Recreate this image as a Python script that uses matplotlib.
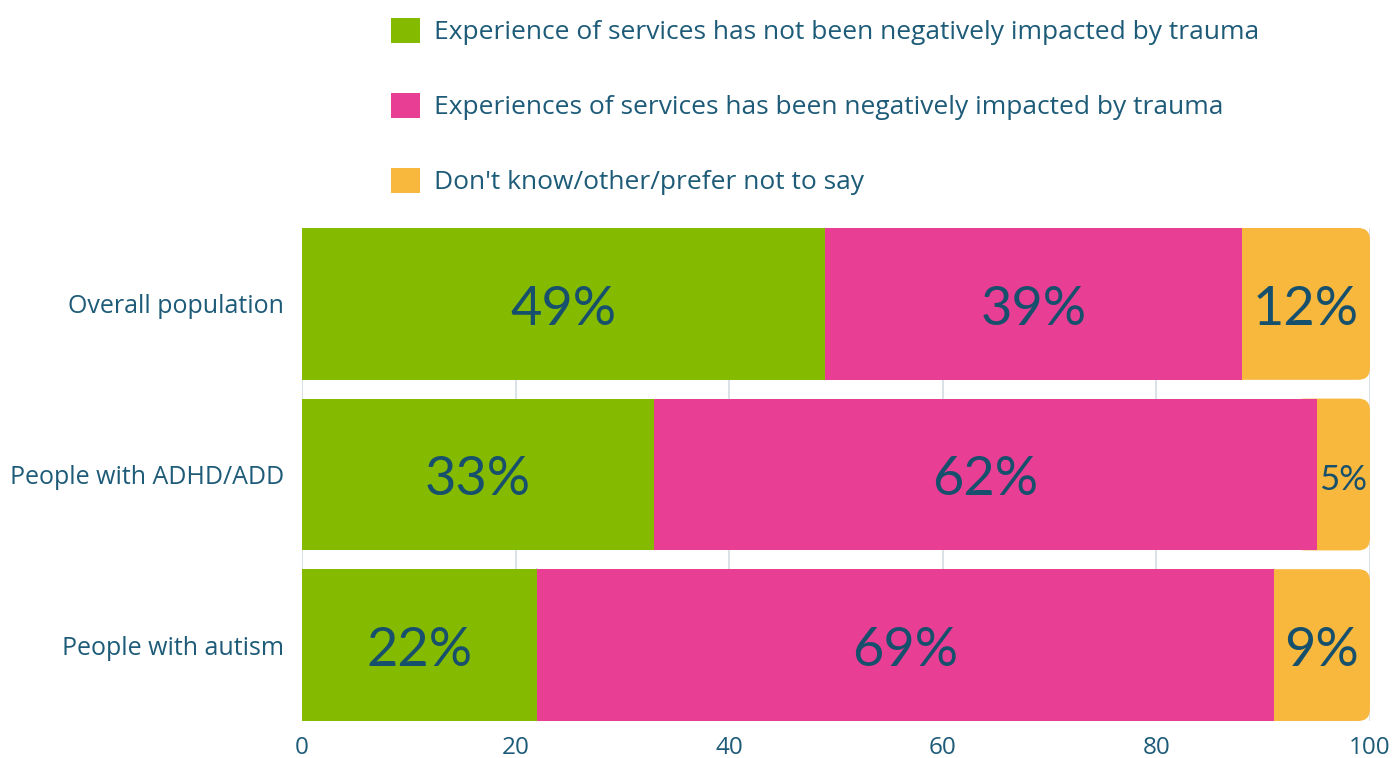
import matplotlib
matplotlib.use("Agg")
import matplotlib.pyplot as plt
from matplotlib.patches import FancyBboxPatch, Patch

# data
groups = ["Overall population", "People with ADHD/ADD", "People with autism"]
series = [
    "Experience of services has not been negatively impacted by trauma",
    "Experiences of services has been negatively impacted by trauma",
    "Don't know/other/prefer not to say",
]
not_impacted = [49, 33, 22]
impacted = [39, 62, 69]
dont_know = [12, 5, 9]
xticks = [0, 20, 40, 60, 80, 100]

colors = ["#84BA00", "#E83E93", "#F8B73D"]
text_col = "#1D5B78"
label_col = "#17506C"

plt.rcParams["font.family"] = ["Open Sans", "DejaVu Sans"]

fig = plt.figure(figsize=(13.92, 7.58), dpi=100)
ax = fig.add_axes([302 / 1392, 37 / 758, 1068 / 1392, 493 / 758])

ypos = list(range(len(groups)))
h = 0.89
values = [not_impacted, impacted, dont_know]
left = [0] * len(groups)
containers = []
for vals, col, name in zip(values, colors, series):
    bars = ax.barh(ypos, vals, left=left, height=h, color=col, label=name, zorder=3)
    containers.append(bars)
    left = [l + v for l, v in zip(left, vals)]

ax.set_xlim(0, 100)
ax.set_ylim(len(groups) - 1 + h / 2, -h / 2)

# round the right end of the last segment
px_x = 1068 / 100.0
px_y = 493 / (len(groups) - 1 + h)
r = 12 / px_x
last = containers[-1]
for rect in last.patches:
    x0, y0, w, hh = rect.get_x(), rect.get_y(), rect.get_width(), rect.get_height()
    rect.set_visible(False)
    fb = FancyBboxPatch((x0 - 2 * r, y0), w + 2 * r, hh,
                        boxstyle=f"round,pad=0,rounding_size={r}",
                        mutation_aspect=px_x / px_y,
                        facecolor=rect.get_facecolor(), edgecolor="none", zorder=2)
    ax.add_patch(fb)

# labels inside segments
for vals, bars in zip(values, containers):
    for v, rect in zip(vals, bars.patches):
        cx = rect.get_x() + rect.get_width() / 2
        cy = rect.get_y() + rect.get_height() / 2 + 0.03
        fs = 25 if v < 6 else 39
        ax.text(cx, cy, f"{v}%", ha="center", va="center", fontsize=fs,
                color=label_col, zorder=5, family=["Lato", "DejaVu Sans"])

ax.set_yticks(ypos)
ax.set_yticklabels(groups)
ax.set_xticks(xticks)
ax.set_xticklabels([str(t) for t in xticks])
ax.tick_params(axis="both", length=0, colors=text_col, labelsize=17.5)
ax.tick_params(axis="y", labelsize=18, pad=13)
ax.tick_params(axis="x", pad=11)
for s in ax.spines.values():
    s.set_visible(False)
ax.grid(axis="x", color="#D3DDE4", linewidth=1.2, zorder=0)
ax.set_axisbelow(True)

handles = [Patch(facecolor=c, edgecolor="none") for c in colors]
leg = fig.legend(handles, series, loc="upper left",
                 bbox_to_anchor=(380 / 1392, 1 - 7 / 758),
                 frameon=False, fontsize=19, handlelength=1.1, handleheight=1.1,
                 handletextpad=0.55, labelspacing=1.8, borderaxespad=0)
for t in leg.get_texts():
    t.set_color(text_col)

fig.savefig("out.png", dpi=100)
